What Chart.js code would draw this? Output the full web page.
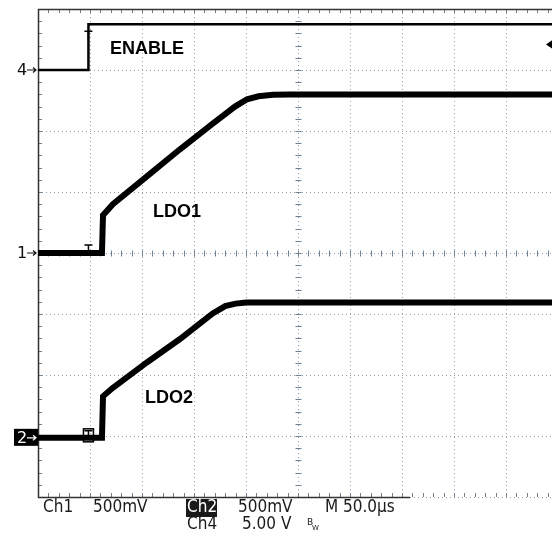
<!DOCTYPE html>
<html>
<head>
<meta charset="utf-8">
<script src="https://cdn.jsdelivr.net/npm/chart.js@4.4.0/dist/chart.umd.min.js"></script>
<style>
  body { margin: 0; background: #fff; }
  canvas { display: block; }
</style>
</head>
<body>
<canvas id="scope" width="552" height="536"></canvas>
<script>
// time axis, us (50 us/div), picture is cut just before the 10th division
const timeTicks = [0, 50, 100, 150, 200, 250, 300, 350, 400, 450, 500];
const timeEnd = 494.2;

// ENABLE - Ch4, 5 V/div
const enableTime = [0, 48.5, 48.5, 494.2];
const enableVolts = [0, 0, 3.75, 3.75];

// LDO1 - Ch1, 500 mV/div
const ldo1Time = [0, 61.5, 62.5, 72, 105, 136.5, 168, 189.4, 201, 212, 226, 242, 494.2];
const ldo1Volts = [0, 0, 0.31, 0.4, 0.63, 0.85, 1.06, 1.2, 1.26, 1.285, 1.298, 1.3, 1.3];

// LDO2 - Ch2, 500 mV/div
const ldo2Time = [0, 61.5, 62.5, 72, 105, 136.5, 153, 168, 180, 190, 200, 494.2];
const ldo2Volts = [0, 0, 0.34, 0.41, 0.62, 0.81, 0.92, 1.02, 1.08, 1.1, 1.11, 1.11];

// channel setup: volts per division and where the ground marker sits (div from bottom)
const chanNames = ["1", "2", "4"];
const chanVoltsPerDiv = [0.5, 0.5, 5];
const chanGroundDiv = [4, 0.97, 7];
const DIVS = 8;

function pts(t, v) {
  return t.map((tt, i) => ({ x: tt, y: v[i] }));
}

function chanAxis(i) {
  return {
    type: "linear",
    display: false,
    min: -chanGroundDiv[i] * chanVoltsPerDiv[i],
    max: (DIVS - chanGroundDiv[i]) * chanVoltsPerDiv[i],
  };
}

// scope graticule, channel markers and readout
const scopeDecor = {
  id: "scopeDecor",
  beforeDatasetsDraw(chart) {
    const { ctx, chartArea: a, scales } = chart;
    const x = scales.x, y = scales.ch1;
    const step = chanVoltsPerDiv[0];
    ctx.save();
    // dotted grid
    ctx.strokeStyle = "#8fa0ae";
    ctx.lineWidth = 1;
    ctx.setLineDash([1, 3]);
    timeTicks.forEach((t) => {
      const px = Math.round(x.getPixelForValue(t)) + 0.5;
      if (px > a.right) return;
      ctx.beginPath(); ctx.moveTo(px, a.top); ctx.lineTo(px, a.bottom); ctx.stroke();
    });
    for (let d = 0; d <= DIVS; d++) {
      const py = Math.round(y.getPixelForValue(y.min + d * step)) + 0.5;
      ctx.beginPath(); ctx.moveTo(a.left, py); ctx.lineTo(a.right, py); ctx.stroke();
    }
    ctx.setLineDash([]);
    // minor ticks on the centre cross and on the edges
    ctx.strokeStyle = "#6f8090";
    const cx = Math.round(x.getPixelForValue(250)) + 0.5;
    const cy = Math.round(y.getPixelForValue(0)) + 0.5;
    for (let t = 0; t <= timeEnd; t += 10) {
      const px = Math.round(x.getPixelForValue(t)) + 0.5;
      ctx.beginPath();
      ctx.moveTo(px, cy - 3); ctx.lineTo(px, cy + 3);
      ctx.moveTo(px, a.top); ctx.lineTo(px, a.top + 4);
      ctx.moveTo(px, a.bottom); ctx.lineTo(px, a.bottom - 4);
      ctx.stroke();
    }
    for (let d = 0; d <= DIVS * 5; d++) {
      const py = Math.round(y.getPixelForValue(y.min + d * step / 5)) + 0.5;
      ctx.beginPath();
      ctx.moveTo(cx - 3, py); ctx.lineTo(cx + 3, py);
      ctx.moveTo(a.left, py); ctx.lineTo(a.left + 4, py);
      ctx.stroke();
    }
    // frame
    ctx.strokeStyle = "#333";
    ctx.lineWidth = 1.5;
    ctx.beginPath();
    ctx.moveTo(a.right, a.top + 0.5); ctx.lineTo(a.left + 0.5, a.top + 0.5);
    ctx.lineTo(a.left + 0.5, a.bottom + 0.5); ctx.lineTo(410, a.bottom + 0.5);
    ctx.stroke();
    ctx.restore();
  },
  afterDraw(chart) {
    const { ctx, chartArea: a, scales } = chart;
    const x = scales.x;
    ctx.save();
    ctx.fillStyle = "#000";
    ctx.strokeStyle = "#000";
    ctx.lineWidth = 1.5;

    // trigger "T" marks at the ENABLE edge
    const tx = x.getPixelForValue(enableTime[1]);
    const tMark = (px, py) => {
      ctx.beginPath();
      ctx.moveTo(px - 4, py); ctx.lineTo(px + 4, py);
      ctx.moveTo(px, py); ctx.lineTo(px, py + 8);
      ctx.stroke();
    };
    tMark(tx, scales.ch4.getPixelForValue(enableVolts[2]) + 7);
    tMark(tx, scales.ch1.getPixelForValue(0) - 8);
    const g2 = scales.ch2.getPixelForValue(0);
    ctx.strokeRect(tx - 5, g2 - 9, 10, 13);
    tMark(tx, g2 - 7);

    // trigger level arrow, right edge
    const ty = scales.ch4.getPixelForValue(2.1);
    ctx.beginPath();
    ctx.moveTo(a.right - 6, ty); ctx.lineTo(a.right + 4, ty - 7); ctx.lineTo(a.right + 4, ty + 7);
    ctx.closePath(); ctx.fill();

    // channel ground markers
    ctx.font = "16px 'DejaVu Sans'";
    ctx.textBaseline = "middle";
    ctx.textAlign = "left";
    const markers = [["ch1", 0], ["ch2", 1], ["ch4", 2]];
    markers.forEach(([id, i]) => {
      const py = scales[id].getPixelForValue(0);
      if (chanNames[i] === "2") {
        ctx.fillStyle = "#000";
        ctx.fillRect(14, py - 9, 24, 17);
        ctx.fillStyle = "#fff";
      } else {
        ctx.fillStyle = "#111";
      }
      ctx.fillText(chanNames[i], 17, py + 1);
      ctx.strokeStyle = ctx.fillStyle;
      ctx.lineWidth = 1.2;
      ctx.beginPath();
      ctx.moveTo(27, py); ctx.lineTo(36, py);
      ctx.moveTo(33, py - 2.5); ctx.lineTo(36, py); ctx.lineTo(33, py + 2.5);
      ctx.stroke();
    });

    // trace labels
    ctx.fillStyle = "#000";
    ctx.font = "bold 18px 'Liberation Sans', Arial, sans-serif";
    ctx.fillText("ENABLE", 110, 49);
    ctx.fillText("LDO1", 153, 212);
    ctx.fillText("LDO2", 145, 398);

    // readout
    ctx.font = "17px 'DejaVu Sans Condensed', 'DejaVu Sans', sans-serif";
    ctx.fillStyle = "#1a1a1a";
    ctx.fillText("Ch1", 43, 508);
    ctx.fillText("500mV", 93, 508);
    ctx.fillRect(186, 499, 31, 18);
    ctx.fillText("Ch4", 187, 525);
    ctx.fillText("500mV", 238, 508);
    ctx.fillText("5.00 V", 242, 525);
    ctx.fillText("M 50.0\u00b5s", 325, 508);
    ctx.fillStyle = "#fff";
    ctx.fillText("Ch2", 187, 508);
    ctx.fillStyle = "#1a1a1a";
    ctx.font = "9px 'DejaVu Sans'";
    ctx.fillText("B", 307, 523);
    ctx.font = "7px 'DejaVu Sans'";
    ctx.fillText("W", 312, 528);
    ctx.restore();
  },
};

const traceStyle = {
  borderColor: "#000",
  pointRadius: 0,
  fill: false,
  tension: 0,
};

new Chart(document.getElementById("scope"), {
  type: "line",
  data: {
    datasets: [
      {
        ...traceStyle,
        label: "ENABLE",
        data: pts(enableTime, enableVolts),
        yAxisID: "ch4",
        borderWidth: 2.5,
      },
      {
        ...traceStyle,
        label: "LDO1",
        data: pts(ldo1Time, ldo1Volts),
        yAxisID: "ch1",
        borderWidth: 6,
      },
      {
        ...traceStyle,
        label: "LDO2",
        data: pts(ldo2Time, ldo2Volts),
        yAxisID: "ch2",
        borderWidth: 6,
      },
    ],
  },
  options: {
    responsive: false,
    animation: false,
    layout: { padding: { left: 38, top: 9, right: 0, bottom: 39 } },
    plugins: { legend: { display: false }, tooltip: { enabled: false } },
    scales: {
      x: { type: "linear", display: false, min: 0, max: timeEnd },
      ch1: chanAxis(0),
      ch2: chanAxis(1),
      ch4: chanAxis(2),
    },
  },
  plugins: [scopeDecor],
});
</script>
</body>
</html>
